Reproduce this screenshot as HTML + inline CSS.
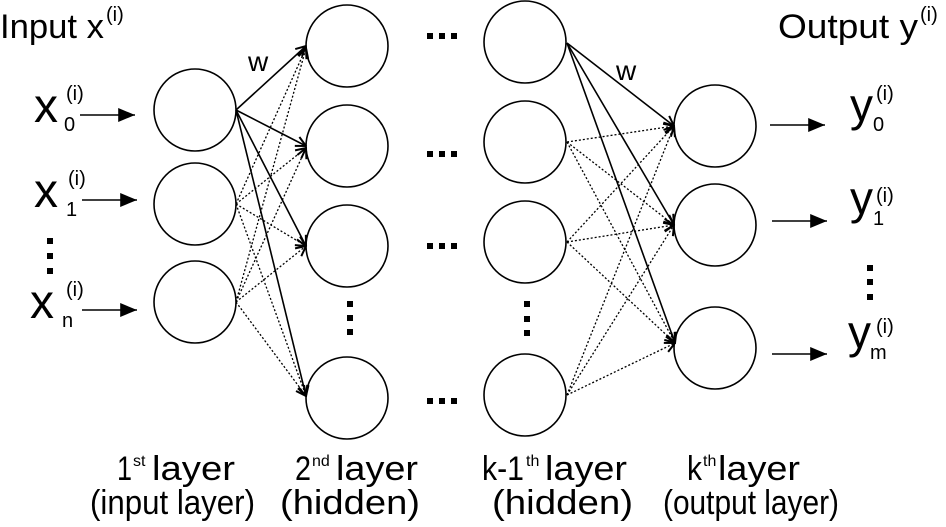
<!DOCTYPE html>
<html><head><meta charset="utf-8"><style>
html,body{margin:0;padding:0;background:#fff;}
svg{display:block;font-family:"Liberation Sans",Arial,sans-serif;}
</style></head><body>
<svg width="946" height="527" viewBox="0 0 946 527" xmlns="http://www.w3.org/2000/svg">
<defs>
<marker id="a" viewBox="0 0 12 12" refX="11" refY="6" markerWidth="12" markerHeight="12" markerUnits="userSpaceOnUse" orient="auto">
<path d="M1,1 L11,6 L1,11" fill="none" stroke="#000" stroke-width="2"/>
</marker>
<marker id="f" viewBox="0 0 12 10" refX="12" refY="5" markerWidth="17" markerHeight="14" markerUnits="userSpaceOnUse" orient="auto">
<path d="M0,0 L12,5 L0,10 Z" fill="#000"/>
</marker>
</defs>
<g fill="none" stroke="#000" stroke-width="1.6">
<circle cx="195" cy="110" r="41"/><circle cx="195" cy="204" r="41"/><circle cx="195" cy="302" r="41"/>
<circle cx="347" cy="46" r="41"/><circle cx="347" cy="146" r="41"/><circle cx="347" cy="246" r="41"/><circle cx="347" cy="398" r="41"/>
<circle cx="525" cy="42" r="41"/><circle cx="525" cy="142" r="41"/><circle cx="525" cy="242" r="41"/><circle cx="525" cy="395" r="41"/>
<circle cx="715" cy="126" r="41"/><circle cx="715" cy="225" r="41"/><circle cx="715" cy="348" r="41"/>
</g>
<g stroke="#000" stroke-width="1.3" stroke-dasharray="2,2" fill="none" marker-end="url(#a)">
<line x1="236" y1="204" x2="306" y2="48"/><line x1="236" y1="204" x2="306" y2="148"/><line x1="236" y1="204" x2="306" y2="246"/><line x1="236" y1="204" x2="306" y2="396"/>
<line x1="236" y1="302" x2="306" y2="48"/><line x1="236" y1="302" x2="306" y2="148"/><line x1="236" y1="302" x2="306" y2="246"/><line x1="236" y1="302" x2="306" y2="396"/>
<line x1="567" y1="142" x2="674" y2="126"/><line x1="567" y1="142" x2="674" y2="225"/><line x1="567" y1="142" x2="675" y2="343"/>
<line x1="567" y1="242" x2="674" y2="126"/><line x1="567" y1="242" x2="674" y2="225"/><line x1="567" y1="242" x2="675" y2="343"/>
<line x1="567" y1="395" x2="674" y2="126"/><line x1="567" y1="395" x2="674" y2="225"/><line x1="567" y1="395" x2="675" y2="343"/>
</g>
<g stroke="#000" stroke-width="1.6" fill="none" marker-end="url(#a)">
<line x1="236" y1="110" x2="306" y2="46"/><line x1="236" y1="110" x2="306" y2="146"/><line x1="236" y1="110" x2="306" y2="246"/><line x1="236" y1="110" x2="306" y2="396"/>
<line x1="567" y1="43" x2="674" y2="126"/><line x1="567" y1="43" x2="674" y2="225"/><line x1="567" y1="43" x2="675" y2="343"/>
</g>
<g stroke="#000" stroke-width="1.6" marker-end="url(#f)">
<line x1="80" y1="115" x2="135" y2="115"/><line x1="82" y1="200" x2="137" y2="200"/><line x1="82" y1="310" x2="137" y2="310"/>
<line x1="770" y1="125" x2="825" y2="125"/><line x1="772" y1="221" x2="827" y2="221"/><line x1="772" y1="354" x2="827" y2="354"/>
</g>
<g fill="#000">
<rect x="427" y="33" width="6" height="6"/><rect x="439" y="33" width="6" height="6"/><rect x="451" y="33" width="6" height="6"/>
<rect x="427" y="151" width="6" height="6"/><rect x="439" y="151" width="6" height="6"/><rect x="451" y="151" width="6" height="6"/>
<rect x="427" y="243" width="6" height="6"/><rect x="439" y="243" width="6" height="6"/><rect x="451" y="243" width="6" height="6"/>
<rect x="427" y="398" width="6" height="6"/><rect x="439" y="398" width="6" height="6"/><rect x="451" y="398" width="6" height="6"/>
<rect x="347" y="301" width="6" height="6"/><rect x="347" y="315" width="6" height="6"/><rect x="347" y="329" width="6" height="6"/>
<rect x="524" y="301" width="6" height="6"/><rect x="524" y="316" width="6" height="6"/><rect x="524" y="330" width="6" height="6"/>
<rect x="47" y="238" width="6" height="6"/><rect x="47" y="253" width="6" height="6"/><rect x="47" y="268" width="6" height="6"/>
<rect x="867" y="265" width="6" height="6"/><rect x="867" y="279" width="6" height="6"/><rect x="867" y="294" width="6" height="6"/>
</g>
<g fill="#000">
<text x="0" y="38" font-size="34" textLength="104" lengthAdjust="spacingAndGlyphs">Input x</text><text x="106" y="21" font-size="20">(i)</text>
<text x="778" y="38" font-size="34" textLength="140" lengthAdjust="spacingAndGlyphs">Output y</text><text x="920" y="21" font-size="20">(i)</text>
<text x="248" y="71" font-size="28">w</text><text x="616" y="80" font-size="28">w</text>
<text x="34" y="122" font-size="48">x</text><text x="64" y="131" font-size="20">0</text><text x="66" y="100" font-size="20">(i)</text>
<text x="34" y="207" font-size="48">x</text><text x="66" y="216" font-size="20">1</text><text x="68" y="185" font-size="20">(i)</text>
<text x="30" y="318" font-size="48">x</text><text x="62" y="327" font-size="20">n</text><text x="66" y="296" font-size="20">(i)</text>
<text x="850" y="121" font-size="46">y</text><text x="873" y="131" font-size="20">0</text><text x="876" y="100" font-size="20">(i)</text>
<text x="850" y="214" font-size="46">y</text><text x="873" y="225" font-size="20">1</text><text x="876" y="202" font-size="20">(i)</text>
<text x="848" y="348" font-size="46">y</text><text x="870" y="359" font-size="20">m</text><text x="876" y="333" font-size="20">(i)</text>
</g>
<g fill="#000" font-size="34">
<text x="117" y="480" textLength="15" lengthAdjust="spacingAndGlyphs">1</text><text x="133" y="466" font-size="16">st</text><text x="152" y="480" textLength="83" lengthAdjust="spacingAndGlyphs">layer</text>
<text x="90" y="514" textLength="165" lengthAdjust="spacingAndGlyphs">(input layer)</text>
<text x="295" y="480" textLength="16" lengthAdjust="spacingAndGlyphs">2</text><text x="312" y="466" font-size="16">nd</text><text x="336" y="480" textLength="82" lengthAdjust="spacingAndGlyphs">layer</text>
<text x="280" y="514" textLength="140" lengthAdjust="spacingAndGlyphs">(hidden)</text>
<text x="482" y="480" textLength="42" lengthAdjust="spacingAndGlyphs">k-1</text><text x="526" y="466" font-size="16">th</text><text x="545" y="480" textLength="82" lengthAdjust="spacingAndGlyphs">layer</text>
<text x="492" y="514" textLength="141" lengthAdjust="spacingAndGlyphs">(hidden)</text>
<text x="687" y="480" textLength="15" lengthAdjust="spacingAndGlyphs">k</text><text x="703" y="466" font-size="16">th</text><text x="718" y="480" textLength="82" lengthAdjust="spacingAndGlyphs">layer</text>
<text x="663" y="514" textLength="176" lengthAdjust="spacingAndGlyphs">(output layer)</text>
</g>
</svg>
</body></html>
